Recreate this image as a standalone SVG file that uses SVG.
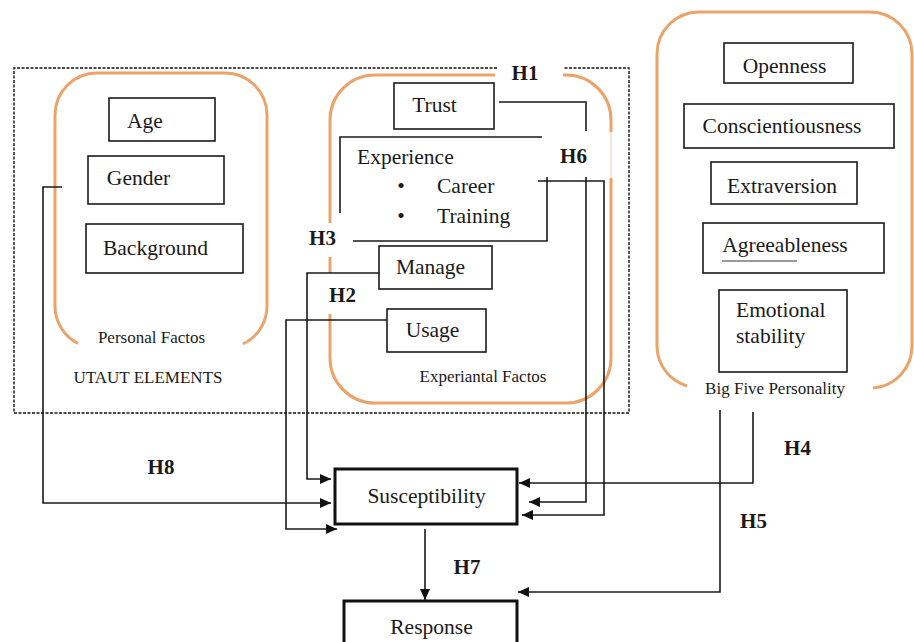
<svg xmlns="http://www.w3.org/2000/svg" width="914" height="642" viewBox="0 0 914 642">
<defs>
<style>
.t{font-family:"Liberation Serif","Times New Roman",serif;font-size:21.5px;fill:#1a1a1a}
.s{font-family:"Liberation Serif","Times New Roman",serif;font-size:17px;fill:#1a1a1a}
.h{font-family:"Liberation Serif","Times New Roman",serif;font-size:21px;font-weight:bold;fill:#1a1a1a}
.box{fill:#fff;stroke:#1a1a1a;stroke-width:1.6}
.bold{fill:#fff;stroke:#111;stroke-width:3}
.or{fill:none;stroke:#EBA36A;stroke-width:3}
.ln{fill:none;stroke:#1a1a1a;stroke-width:1.6}
.ar{fill:none;stroke:#1a1a1a;stroke-width:1.6;marker-end:url(#ah)}
</style>
<marker id="ah" markerUnits="userSpaceOnUse" markerWidth="12" markerHeight="10" refX="11" refY="5" orient="auto">
<path d="M0,0 L11,5 L0,10 z" fill="#111"/>
</marker>
</defs>
<rect width="914" height="642" fill="#fff"/>

<g id="utaut">
<path d="M497,68 H14 V413 H629 V68 H563" fill="none" stroke="#111" stroke-width="1.4" stroke-dasharray="3,1.5"/>
<text class="s" x="148" y="383" text-anchor="middle">UTAUT ELEMENTS</text>
</g>

<g id="personal">
<path class="or" d="M78,343.5 A42,42 0 0 1 55,306 V115 A42,42 0 0 1 97,73 H225 A42,42 0 0 1 267,115 V306 A42,42 0 0 1 243,344"/>
<text class="s" x="151.5" y="343" text-anchor="middle">Personal Factos</text>
</g>
<g id="age"><rect class="box" x="109" y="98" width="106" height="43"/><text class="t" x="145" y="128" text-anchor="middle">Age</text></g>
<g id="gender"><rect class="box" x="88" y="156" width="136" height="48"/><text class="t" x="138.5" y="185" text-anchor="middle">Gender</text></g>
<g id="background"><rect class="box" x="86" y="224" width="157" height="49"/><text class="t" x="155.5" y="255" text-anchor="middle">Background</text></g>

<g id="experiential">
<path class="or" d="M495,75 H375 A45,45 0 0 0 330,120 V223"/>
<path class="or" d="M330,257 V273"/>
<path class="or" d="M330,314 V358 A45,45 0 0 0 375,403 H566 A45,45 0 0 0 611,358 V178"/>
<path class="or" d="M611,132 V120 A45,45 0 0 0 566,75 H563"/>
<path d="M611,132 V178" fill="none" stroke="#EBA36A" stroke-width="1" stroke-opacity="0.6"/>
<text class="s" x="483" y="382" text-anchor="middle">Experiantal Factos</text>
</g>
<g id="trust"><rect class="box" x="394" y="83" width="100" height="46"/><text class="t" x="434.5" y="112" text-anchor="middle">Trust</text></g>
<g id="experience">
<text class="t" x="357" y="164">Experience</text>
<text class="t" x="401" y="193" text-anchor="middle">•</text>
<text class="t" x="437" y="193">Career</text>
<text class="t" x="401" y="223" text-anchor="middle">•</text>
<text class="t" x="437" y="223">Training</text>
</g>
<g id="manage"><rect class="box" x="379" y="246" width="113" height="43"/><text class="t" x="430.5" y="274" text-anchor="middle">Manage</text></g>
<g id="usage"><rect class="box" x="387" y="309" width="99" height="43"/><text class="t" x="432.5" y="337" text-anchor="middle">Usage</text></g>

<g id="bigfive">
<path class="or" d="M687,386 A42,42 0 0 1 657,346 V54 A42,42 0 0 1 699,12 H870 A42,42 0 0 1 912,54 V346 A42,42 0 0 1 873,388"/>
<text class="s" x="775" y="394" text-anchor="middle">Big Five Personality</text>
</g>
<g id="openness"><rect class="box" x="724" y="43" width="129" height="40"/><text class="t" x="784.5" y="73" text-anchor="middle">Openness</text></g>
<g id="conscientiousness"><rect class="box" x="684" y="104" width="210" height="44"/><text class="t" x="782" y="133" text-anchor="middle">Conscientiousness</text></g>
<g id="extraversion"><rect class="box" x="711" y="162" width="146" height="42"/><text class="t" x="782" y="193" text-anchor="middle">Extraversion</text></g>
<g id="agreeableness"><rect class="box" x="703" y="223" width="181" height="50"/><text class="t" x="785" y="252" text-anchor="middle">Agreeableness</text><line x1="722" y1="261" x2="797" y2="261" stroke="#333" stroke-width="1"/></g>
<g id="emotional"><rect class="box" x="719" y="290" width="128" height="82"/><text class="t" x="736" y="317">Emotional</text><text class="t" x="736" y="343">stability</text></g>

<g id="susceptibility"><rect class="bold" x="335" y="469" width="182" height="55"/><text class="t" x="426.5" y="503" text-anchor="middle">Susceptibility</text></g>
<g id="response"><rect class="bold" x="344" y="601" width="173" height="50"/><text class="t" x="431.5" y="634" text-anchor="middle">Response</text></g>

<g id="connectors">
<path class="ar" d="M62,187 H43 V503 H331"/>
<path class="ar" d="M379,273 H307 V479 H331"/>
<path class="ar" d="M387,320 H286 V529 H337"/>
<path class="ln" d="M499,102 H586 V131"/>
<path class="ar" d="M586,177 V502 H529"/>
<path class="ln" d="M542,137 H340 V213"/>
<path class="ln" d="M353,241 H547 V177"/>
<path class="ar" d="M538,181 H604 V515 H522"/>
<path class="ar" d="M753,412 V483 H519"/>
<path class="ar" d="M720,410 V592 H518"/>
<path class="ar" d="M425,529 V600"/>
</g>

<g id="labels">
<text class="h" x="525" y="80" text-anchor="middle">H1</text>
<text class="h" x="342.5" y="302" text-anchor="middle">H2</text>
<text class="h" x="322.5" y="245" text-anchor="middle">H3</text>
<text class="h" x="797.5" y="455" text-anchor="middle">H4</text>
<text class="h" x="753.5" y="528" text-anchor="middle">H5</text>
<text class="h" x="573.5" y="163" text-anchor="middle">H6</text>
<text class="h" x="467" y="574" text-anchor="middle">H7</text>
<text class="h" x="161" y="474" text-anchor="middle">H8</text>
</g>
</svg>
